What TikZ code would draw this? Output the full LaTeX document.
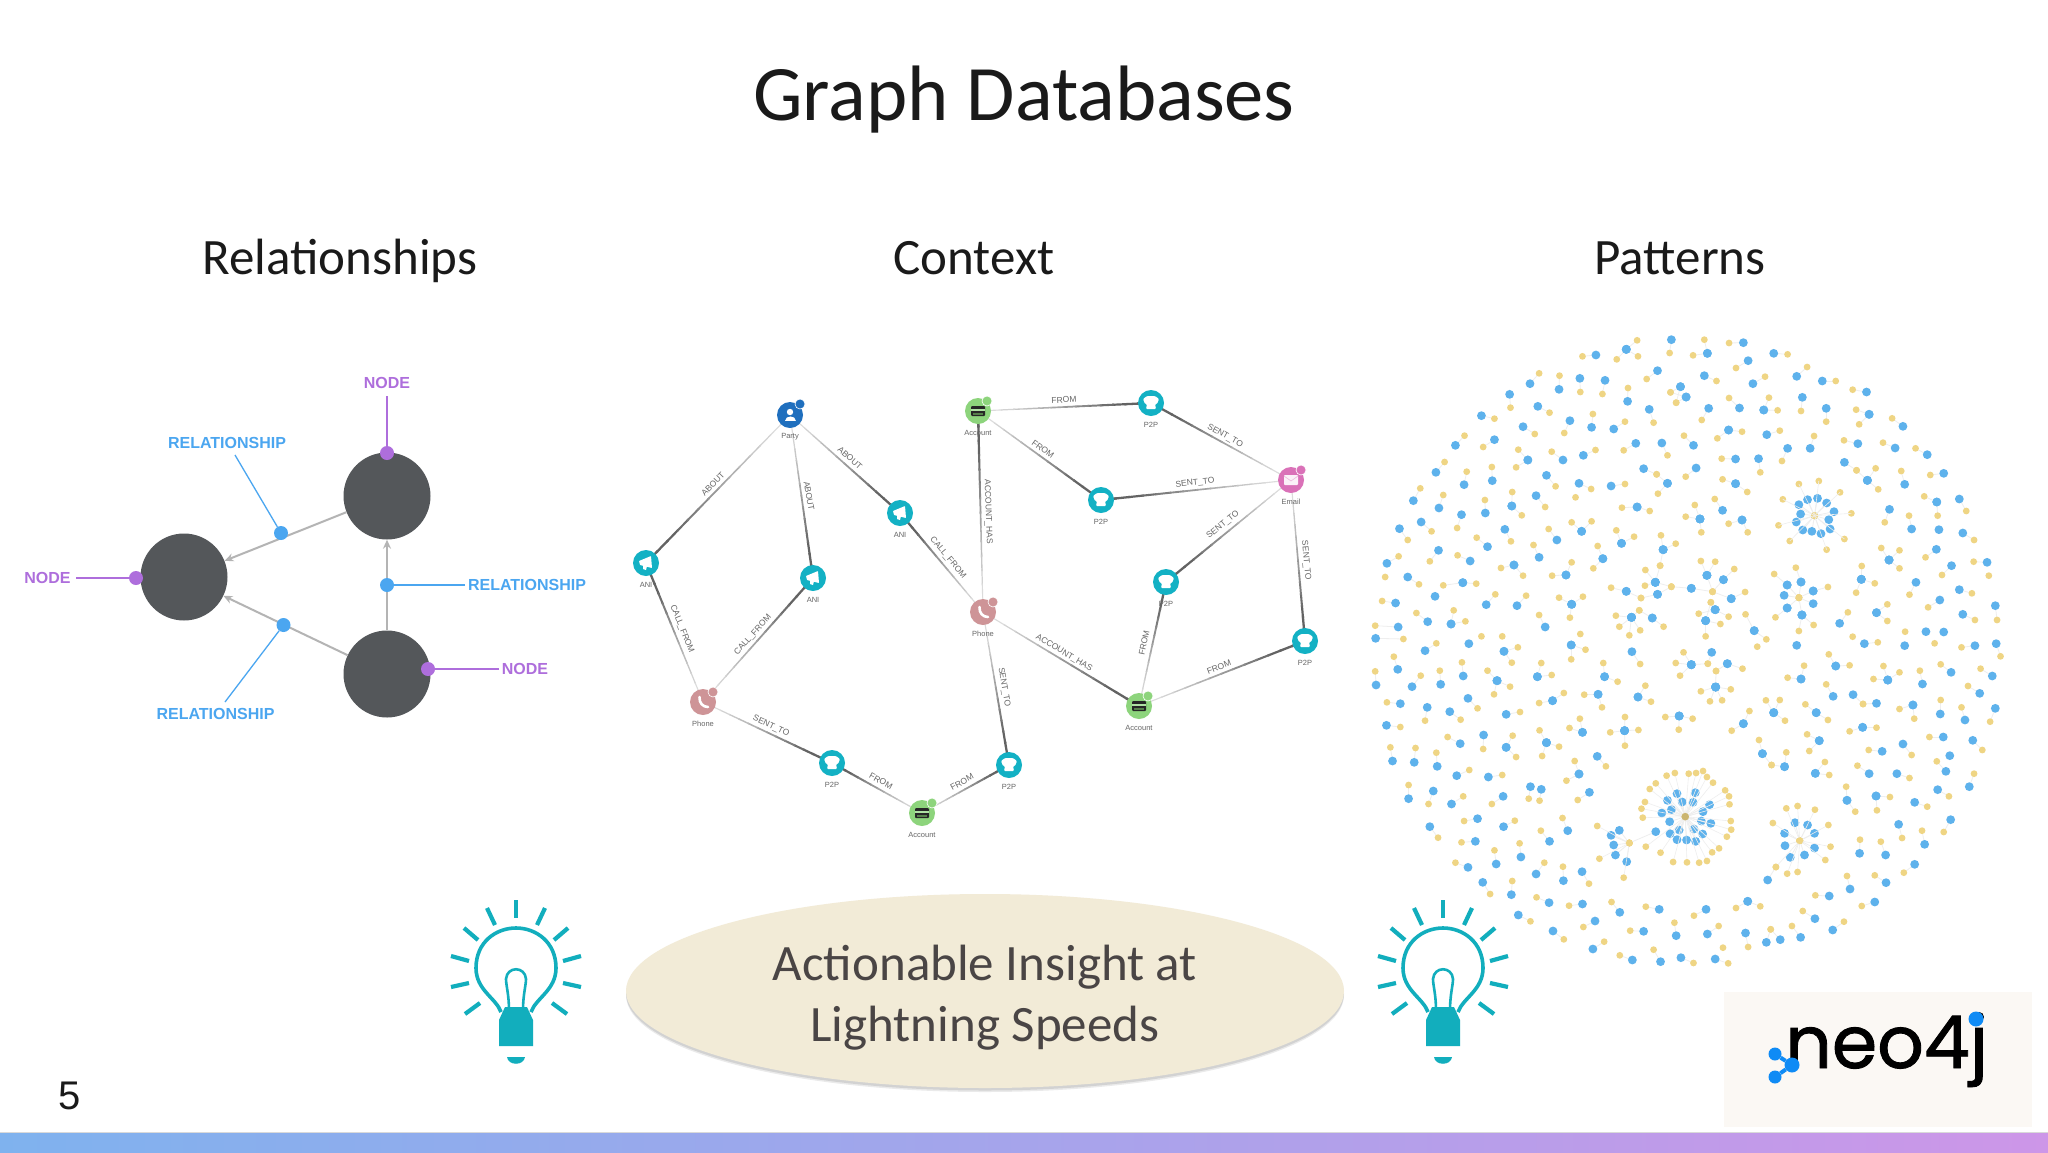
\documentclass[tikz,border=0pt]{standalone}
\usepackage{fontspec}
\setmainfont{Carlito}
\newfontfamily\lib{Liberation Sans}
\newfontfamily\neofont{Poppins}[FakeBold=1.2]
\usetikzlibrary{calc,arrows.meta,backgrounds,shapes.geometric}
\definecolor{titleink}{HTML}{1A1A1A}
\definecolor{nodegray}{HTML}{54575A}
\definecolor{nodepurple}{HTML}{AE6EDC}
\definecolor{relblue}{HTML}{4BA6F0}
\definecolor{arrowgray}{HTML}{B4B4B4}
\definecolor{teal1}{HTML}{13B1C4}
\definecolor{bluenode}{HTML}{1F6FBE}
\definecolor{pinknode}{HTML}{CE9497}
\definecolor{greennode}{HTML}{8DD47C}
\definecolor{mailnode}{HTML}{DA71B8}
\definecolor{edgedark}{HTML}{636363}
\definecolor{edgepale}{HTML}{E8E8E8}
\definecolor{txtgray}{HTML}{666666}
\definecolor{dotblue}{HTML}{5EB2EC}
\definecolor{dotyellow}{HTML}{EFD584}
\definecolor{linkpale}{HTML}{EEEEEE}
\definecolor{bulbteal}{HTML}{12AEBD}
\definecolor{ovalfill}{HTML}{F2EBD7}
\definecolor{ovalink}{HTML}{4A4545}
\definecolor{logobg}{HTML}{FBF8F4}
\definecolor{logoblue}{HTML}{0F8BF5}
\definecolor{barleft}{HTML}{7FB2EE}
\definecolor{barright}{HTML}{CD96E8}
\tikzset{
  bigdisc/.style={circle,fill=nodegray,minimum size=87pt,inner sep=0pt},
  pdot/.style={circle,fill=nodepurple,minimum size=14pt,inner sep=0pt},
  bdot/.style={circle,fill=relblue,minimum size=14pt,inner sep=0pt},
  plabel/.style={font=\lib\bfseries\fontsize{16}{18}\selectfont,text=nodepurple,inner sep=0pt},
  blabel/.style={font=\lib\bfseries\fontsize{16}{18}\selectfont,text=relblue,inner sep=0pt},
  pline/.style={nodepurple,line width=1.6pt},
  bline/.style={relblue,line width=1.3pt},
  garrow/.style={arrowgray,line width=2pt,-{Stealth[length=9pt,width=8pt]}},
  gdisc/.style={circle,minimum size=26pt,inner sep=0pt},
  gcap/.style={font=\lib\fontsize{7.5}{9}\selectfont,text=txtgray,inner sep=0pt},
  elab/.style={font=\lib\fontsize{8.5}{9}\selectfont,text=txtgray,inner sep=0pt},
  head/.style={font=\fontsize{51}{56}\selectfont,text=titleink,inner sep=0pt,anchor=base},
  ani/.pic={\fill[white,rounded corners=0.6pt] (-7,-2)--(5,-7)--(6,5)--(-6,2)--cycle;
            \fill[white] (-3,2)--(1,3)--(0,7)--(-3,6)--cycle;},
  ptp/.pic={\fill[white,rounded corners=1pt] (-8,-4)--(-4,-7)--(4,-7)--(8,-4)--(6,1)--(4,1)--(5,6)--(-5,6)--(-4,1)--(-6,1)--cycle;},
  acct/.pic={\fill[black!85,rounded corners=1pt] (-7,-5) rectangle (7,5);
             \fill[greennode!70!white] (-7,-2.5) rectangle (7,-0.5);
             \fill[greennode!60!black] (-5,1.5) rectangle (5,3.5);},
  phn/.pic={\draw[white,line width=2.6pt,line cap=round] (-3.5,-5) .. controls (-4,1) and (0,5) .. (5,5);},
  mail/.pic={\fill[white!90!mailnode,rounded corners=0.8pt] (-7,-5) rectangle (7,5);
             \draw[mailnode!50!white,line width=0.6pt] (-7,-4)--(0,1)--(7,-4);},
  pers/.pic={\fill[white] (0,-3) circle[radius=3.2pt];
             \fill[white] (-5.5,6) .. controls (-5.5,-0.5) and (5.5,-0.5) .. (5.5,6)--cycle;},
  bulb/.pic={
    \draw[bulbteal,line width=3.6pt] (-15,32) .. controls (-20,18) and (-40,10) .. (-40,-12)
       .. controls (-40,-38) and (-20,-52) .. (0,-52)
       .. controls (20,-52) and (40,-38) .. (40,-12)
       .. controls (40,10) and (20,18) .. (15,32);
    \draw[bulbteal,line width=2.6pt] (-7,30) .. controls (-7,15) and (-10,5) .. (-10,-1)
       .. controls (-9,-14) and (9,-14) .. (10,-1) .. controls (10,5) and (7,15) .. (7,30);
    \fill[bulbteal] (-11,27)--(11,27)--(17,40)--(17,66)--(-17,66)--(-17,40)--cycle;
    \fill[bulbteal] (-9,77) -- (9,77) .. controls (8,86) and (-8,86) .. cycle;
    \foreach \u/\v/\p/\q in {0/-80/0/-62,-29/-72/-21/-55,29/-72/21/-55,-52/-52/-38/-40,52/-52/38/-40,
       -65/-24/-47/-19,65/-24/47/-19,-65/7/-47/3,65/7/47/3,-51/34/-36/23,51/34/36/23}
      \draw[bulbteal,line width=4.2pt] (\u,\v)--(\p,\q);
  },
}
% dark end, pale end
\newcommand\gedge[2]{%
  \foreach \i in {0,...,13}{%
    \pgfmathsetmacro\ss{\i/14}%
    \pgfmathsetmacro\tt{(\i+1.15)/14}%
    \pgfmathsetmacro\pct{min(100,125*(1-\ss)^1.3)}%
    \pgfmathsetmacro\wd{2.4-1.5*\ss}%
    \draw[edgedark!\pct!edgepale,line width=\wd pt] ($(#1)!\ss!(#2)$) -- ($(#1)!\tt!(#2)$);
  }}
% name, x, y, colour, caption, icon
\newcommand\gnode[6]{%
  \node[gdisc,fill=#4] (#1) at (#2,#3) {};
  \pic at (#1.center) {#6};
  \node[gcap] (#1-cap) at ($(#1)+(0,21.5)$) {#5};
}
\newcommand\badge[3]{\node[circle,fill=#3,draw=white,line width=0.6pt,minimum size=10pt,inner sep=0pt] (#1-b) at ($(#1)+(#2)$) {};}
\begin{document}
\begin{tikzpicture}[x=1pt,y=-1pt]
\useasboundingbox (0,0) rectangle (2048,1152);
\begin{pgfonlayer}{background}
\fill[white] (0,0) rectangle (2048,1152);
\end{pgfonlayer}

% ---- headings
\node[font=\fontsize{78.6}{84}\selectfont,text=titleink,inner sep=0pt,anchor=base] (title) at (1024,120) {Graph Databases};
\node[head] (h1) at (340,274) {Relationships};
\node[head] (h2) at (974,274) {Context};
\node[head] (h3) at (1680,274) {Patterns};

% ---- Relationships diagram
\node[bigdisc] (top) at (387,496) {};
\node[bigdisc] (lft) at (184,577) {};
\node[bigdisc] (bot) at (387,674) {};
\draw[garrow] (top) -- (lft);
\draw[garrow] (bot) -- (lft);
\draw[garrow] (bot) -- (top);
\node[pdot] (ptop) at (387,453) {};
\node[pdot] (plft) at (136,578) {};
\node[pdot] (pbot) at (428,669) {};
\node[plabel] (ntop) at (387,383) {NODE};
\node[plabel] (nlft) at (47.5,578) {NODE};
\node[plabel] (nbot) at (525,669) {NODE};
\coordinate (ctop) at (387,396);
\coordinate (clft) at (76,578);
\coordinate (cbot) at (499,669);
\draw[pline] (ctop) -- (ptop);
\draw[pline] (clft) -- (plft);
\draw[pline] (cbot) -- (pbot);
\node[bdot] (b1) at (281,533) {};
\node[bdot] (b2) at (387,585) {};
\node[bdot] (b3) at (283.5,625) {};
\node[blabel] (r1) at (227,443) {RELATIONSHIP};
\node[blabel] (r2) at (527,585) {RELATIONSHIP};
\node[blabel] (r3) at (215.5,714) {RELATIONSHIP};
\coordinate (c1) at (235,455);
\coordinate (c2) at (465,585);
\coordinate (c3) at (225,702);
\draw[bline] (c1) -- (b1);
\draw[bline] (c2) -- (b2);
\draw[bline] (c3) -- (b3);

% ---- Context graph
\gnode{party}{790}{415}{bluenode}{Party}{pers}
\gnode{anione}{646}{563}{teal1}{ANI}{ani}
\gnode{anitwo}{813}{578}{teal1}{ANI}{ani}
\gnode{anithree}{900}{513}{teal1}{ANI}{ani}
\gnode{phoneone}{703}{702}{pinknode}{Phone}{phn}
\gnode{ptpa}{832}{763}{teal1}{P2P}{ptp}
\gnode{accta}{922}{813}{greennode}{Account}{acct}
\gnode{ptpb}{1009}{765}{teal1}{P2P}{ptp}
\gnode{acctb}{978}{411}{greennode}{Account}{acct}
\gnode{ptpc}{1151}{403}{teal1}{P2P}{ptp}
\gnode{ptpd}{1101}{500}{teal1}{P2P}{ptp}
\gnode{email}{1291}{480}{mailnode}{Email}{mail}
\gnode{ptpe}{1166}{582}{teal1}{P2P}{ptp}
\gnode{ptpf}{1305}{641}{teal1}{P2P}{ptp}
\gnode{phonetwo}{983}{612}{pinknode}{Phone}{phn}
\gnode{acctc}{1139}{706}{greennode}{Account}{acct}
\badge{party}{10,-11}{bluenode}
\badge{phoneone}{10,-10}{pinknode}
\badge{phonetwo}{10,-10}{pinknode}
\badge{email}{10,-10}{mailnode}
\badge{accta}{10,-10}{greennode}
\badge{acctb}{9,-10}{greennode}
\badge{acctc}{9,-10}{greennode}
\begin{pgfonlayer}{background}
\gedge{anione}{party}
\gedge{anitwo}{party}
\gedge{anithree}{party}
\gedge{anione}{phoneone}
\gedge{anitwo}{phoneone}
\gedge{anithree}{phonetwo}
\gedge{ptpa}{phoneone}
\gedge{ptpa}{accta}
\gedge{ptpb}{accta}
\gedge{ptpc}{acctb}
\gedge{ptpd}{acctb}
\gedge{acctb}{phonetwo}
\gedge{ptpc}{email}
\gedge{ptpd}{email}
\gedge{ptpe}{email}
\gedge{ptpf}{email}
\gedge{ptpe}{acctc}
\gedge{ptpf}{acctc}
\gedge{acctc}{phonetwo}
\gedge{ptpb}{phonetwo}
\end{pgfonlayer}
\node[elab,rotate=46] (e1) at (713,484) {ABOUT};
\node[elab,rotate=-80] (e2) at (809,496) {ABOUT};
\node[elab,rotate=-42] (e3) at (850,458) {ABOUT};
\node[elab,rotate=-68] (e4) at (682,629) {CALL\_FROM};
\node[elab,rotate=48] (e5) at (753,635) {CALL\_FROM};
\node[elab,rotate=-50] (e6) at (948,558) {CALL\_FROM};
\node[elab,rotate=-25] (e7) at (771,726) {SENT\_TO};
\node[elab,rotate=-29] (e8) at (881,781) {FROM};
\node[elab,rotate=29] (e9) at (962,782) {FROM};
\node[elab,rotate=3] (e10) at (1064,400) {FROM};
\node[elab,rotate=-36] (e11) at (1043,449) {FROM};
\node[elab,rotate=-88] (e12) at (988,512) {ACCOUNT\_HAS};
\node[elab,rotate=-29] (e13) at (1225,436) {SENT\_TO};
\node[elab,rotate=6] (e14) at (1195,483) {SENT\_TO};
\node[elab,rotate=39] (e15) at (1223,525) {SENT\_TO};
\node[elab,rotate=-85] (e16) at (1306,560) {SENT\_TO};
\node[elab,rotate=78] (e17) at (1144,643) {FROM};
\node[elab,rotate=21] (e18) at (1219,667) {FROM};
\node[elab,rotate=-31] (e19) at (1064,653) {ACCOUNT\_HAS};
\node[elab,rotate=-80] (e20) at (1004,687) {SENT\_TO};

% ---- Patterns: upper half (zoom-crop coordinates)
\begin{scope}[shift={(1360,320)},x=0.43365pt,y=-0.33333pt]
\foreach \a/\b/\c/\d in {544/105/513/109,614/88/639/61,614/88/592/118,614/88/641/109,718/59/714/99,801/100/794/59,801/100/768/106,884/68/851/69,895/122/867/144,954/100/986/103,1007/169/1031/141,1066/183/1097/183,1168/216/1136/209,1174/283/1144/269,1174/283/1151/313,1252/319/1227/295,1234/384/1206/368,1308/404/1281/385,1346/460/1315/465,686/152/661/177,794/167/822/183,906/191/934/170,1020/232/1017/273,1075/265/1075/305,931/270/963/271,931/270/943/233,875/264/851/234,804/265/788/300,667/268/677/308,739/200/716/217,752/231/729/248,739/200/729/248,752/231/716/217,617/244/618/204,565/181/559/222,507/175/508/216,459/208/460/167,392/191/413/160,345/223/347/263,410/259/437/278,280/287/310/296,376/320/403/342,484/302/471/339,534/322/537/282,585/327/611/305,636/370/608/391,696/369/709/406,769/376/747/347,850/330/824/355,850/330/881/335,938/344/968/332,986/385/973/423,1038/385/1047/348,1148/371/1116/361,310/359/284/381,220/376/241/347,175/457/195/426,123/542/139/505,182/564/192/525,240/494/246/455,305/482/304/441,387/420/360/442,387/420/365/389,468/420/442/395,515/406/543/390,430/466/451/499,505/490/533/507,579/498/611/492,654/446/684/463,709/490/684/463,709/490/687/521,775/444/751/470,866/417/834/416,919/416/923/457,866/491/836/478,866/491/893/516,1117/427/1145/451,1170/481/1145/451,1170/481/1189/445,1170/481/1195/508,1256/493/1248/453,406/527/427/561,350/558/351/516,350/558/373/586,289/579/288/540,234/584/224/624,141/606/165/634,91/626/110/660,1330/546/1301/529,1330/546/1332/587,1382/537/1398/573,1221/568/1210/607,1272/627/1266/587,1390/639/1416/660,1329/688/1304/712,1220/720/1202/684,1220/720/1244/691,1220/720/1244/745,1446/727/1415/725,1364/737/1342/765,1282/787/1267/824,1156/778/1157/738,1156/778/1187/790,1156/778/1144/818,1382/809/1411/820,1337/840/1310/862,1465/857/1469/900,1390/883/1418/900,1191/878/1216/853,1191/878/1216/903,1106/910/1125/877,639/561/604/563,639/561/668/573,836/571/818/537,784/597/772/555,784/597/751/590,784/597/787/637,881/600/850/611,881/600/894/637,603/670/591/631,603/670/632/650,511/634/488/607,511/634/534/604,454/660/435/627,334/628/348/664,294/680/269/653,181/691/161/724,62/730/89/709,254/723/225/706,355/735/325/744,355/735/376/767,413/712/400/675,475/765/443/767,475/765/488/727,560/716/548/678,560/716/538/745,110/771/136/793,237/788/268/791,237/788/192/796,82/849/51/843,291/854/312/823,362/857/383/827,488/853/459/833,488/853/514/830,488/853/484/893,156/905/130/879,210/912/216/871,210/912/243/904,88/921/35/917,427/921/413/885,36/955/100/957,
 1032/539/1048/587,1055/535/1048/587,1076/549/1048/587,1093/575/1048/587,1081/599/1048/587,1084/627/1048/587,1063/641/1048/587,1042/634/1048/587,1021/630/1048/587,1006/606/1048/587,1016/582/1048/587,1012/554/1048/587,
 699/689/694/646,699/689/728/671,699/689/692/737,681/787/692/737,681/787/658/750,681/787/657/797,681/787/718/800,686/823/718/800,686/823/648/834,614/814/579/803,614/814/648/834,626/892/644/871,626/892/590/887,626/892/598/920,626/892/621/946,626/892/646/931,674/894/644/871,674/894/700/920,764/805/718/800,764/805/813/815,800/766/786/723,800/766/819/725,800/766/813/815,838/779/863/747,838/779/813/815,856/836/888/816,856/836/813/815,819/869/809/847,819/869/781/881,819/869/850/890,797/902/809/847,797/902/831/912,797/902/797/949,909/932/889/883,909/932/937/958,
 985/795/1012/833,1017/786/1012/833,1045/813/1012/833,1045/851/1012/833,1019/885/1012/833,985/864/1012/833,978/826/1012/833,1017/786/1005/743,985/795/955/762,1045/813/1079/801,1019/885/1046/915,1019/885/1012/933,985/864/958/892}{
  \draw[linkpale,line width=0.8pt] (\a,\b)--(\c,\d);
  \fill[dotblue] (\a,\b) circle[radius=4.4pt];
  \fill[dotyellow] (\c,\d) circle[radius=3.4pt];
}
\foreach \c/\d in {497/532,1450/767,58/771,508/942,280/949,328/949,1136/950,1257/935,1012/492,1058/483,1107/517,1133/580,1117/657,1076/689,991/663,965/616,975/538,1048/587}{
  \fill[dotyellow] (\c,\d) circle[radius=3.4pt];
}
\foreach \a/\b in {1335/629,173/829,1346/936,1305/935}{
  \fill[dotblue] (\a,\b) circle[radius=4.4pt];
}
\foreach \c/\d in {1012/492,1058/483,1107/517,1133/580,1117/657,1076/689,991/663,965/616,975/538}{
  \draw[linkpale,line width=0.6pt] (1048,587)--(\c,\d);
}
\end{scope}

% ---- Patterns: lower half
\begin{scope}[shift={(1360,640)},x=0.43365pt,y=-0.33333pt]
\foreach \a/\b/\c/\d in {150/32/176/10,332/34/364/22,332/34/350/68,487/15/520/29,487/15/487/58,627/35/646/72,87/88/78/50,37/135/35/94,120/140/140/107,186/133/184/92,238/108/235/67,316/122/294/92,316/122/346/140,316/122/309/163,409/110/442/105,409/110/418/69,564/110/561/69,564/110/594/125,764/74/746/37,764/74/728/69,764/74/738/107,764/74/802/71,847/71/882/86,847/71/821/93,811/37/802/71,820/141/786/154,820/141/855/148,820/141/807/184,820/141/835/181,820/141/821/93,93/191/62/187,155/202/150/242,207/215/232/239,249/175/271/205,337/223/369/216,444/182/413/189,444/182/470/159,549/163/517/164,549/163/558/202,641/171/658/137,641/171/671/185,736/228/704/231,736/228/767/236,736/228/735/269,61/256/93/261,285/285/284/327,231/311/202/291,337/322/352/287,337/322/360/351,430/308/414/271,430/308/459/320,430/308/420/348,513/277/507/236,513/277/483/264,610/272/611/231,610/272/577/277,610/272/642/270,610/272/611/317,75/363/70/322,125/367/128/324,178/379/176/338,547/349/567/379,505/402/495/363,505/402/476/422,223/407/252/390,296/411/328/405,112/476/112/435,169/453/158/492,211/492/238/469,330/469/304/492,393/440/389/476,418/448/414/482,529/457/502/480,161/560/180/593,271/536/240/543,331/560/357/542,266/604/234/607,479/572/467/534,437/604/417/572,371/651/368/610,314/672/310/631,249/682/220/668,406/702/425/668,469/722/468/680,512/695/528/731,349/764/351/723,283/727/300/762,436/788/407/772,513/792/482/797,365/825/393/844,599/817/580/786,690/808/659/800,798/808/770/827,894/784/867/804,894/784/923/799,542/843/515/861,445/873/470/898,654/874/623/872,729/887/725/848,801/882/827/858,889/879/895/921,937/907/947/868,969/899/947/868,1016/892/996/858,1049/836/1021/813,1090/870/1116/845,1082/768/1050/766,1187/786/1157/798,1130/747/1123/708,1213/728/1187/706,1279/673/1254/698,1152/640/1153/599,1212/645/1201/605,1302/613/1296/572,1242/553/1250/594,1362/539/1346/576,1332/449/1358/469,1279/487/1308/500,1123/481/1121/440,1123/481/1142/515,1190/468/1222/471,1190/468/1192/511,1405/440/1416/401,1351/394/1330/364,1238/401/1267/414,1174/401/1147/377,1252/312/1272/345,1204/334/1173/330,1050/400/1072/366,1050/400/1082/405,1059/302/1031/283,1059/302/1036/333,928/341/920/300,928/341/949/375,979/380/983/337,979/380/949/375,884/251/898/213,884/251/857/272,954/218/936/181,954/218/968/180,954/218/980/242,1052/218/1027/193,1052/218/1079/240,1159/262/1129/274,1159/262/1191/263,1137/164/1160/192,1191/190/1160/192,1091/169/1075/133,1017/117/986/113,1017/117/1024/77,1097/78/1129/76,1097/78/1081/43,1217/120/1184/117,1217/120/1207/78,1217/120/1244/97,1297/132/1291/92,1363/97/1339/73,1458/108/1431/86,1429/160/1402/138,1465/205/1453/245,1395/240/1387/202,1338/222/1339/180,1275/195/1244/207,1275/195/1278/236,1345/291/1313/291,1413/301/1435/330,1163/11/1194/7,1418/17/1387/22,1467/11/1477/49,537/927/563/905,628/960/599/946,693/965/677/929,740/953/769/969,819/957/849/970,
 731/461/750/530,773/458/750/530,709/481/750/530,743/486/750/530,768/487/750/530,806/494/750/530,718/509/750/530,696/519/750/530,791/515/750/530,714/545/750/530,787/543/750/530,809/550/750/530,736/570/750/530,770/567/750/530,715/581/750/530,790/582/750/530,731/599/750/530,753/600/750/530,774/604/750/530,
 598/571/621/609,579/586/621/609,585/615/621/609,589/645/621/609,615/665/621/609,682/575/621/609,
 1003/548/1014/602,1032/555/1014/602,1048/580/1014/602,979/580/1014/602,980/617/1014/602,1048/624/1014/602,1025/645/1014/602,992/652/1014/602,940/720/959/681}{
  \draw[linkpale,line width=0.8pt] (\a,\b)--(\c,\d);
  \fill[dotblue] (\a,\b) circle[radius=4.4pt];
  \fill[dotyellow] (\c,\d) circle[radius=3.4pt];
}
\foreach \a/\b in {251/11,1360/347,1007/16,1256/17}{
  \fill[dotblue] (\a,\b) circle[radius=4.4pt];
}
\foreach \c/\d in {916/20,837/923,1325/10}{
  \fill[dotyellow] (\c,\d) circle[radius=3.4pt];
}
\foreach \c/\d in {668/447,682/430,707/407,726/399,758/401,775/399,791/393,800/411,814/428,842/451,851/469,852/493,855/543,856/569,846/590,828/625,812/637,800/663,782/668,754/667,722/666,693/638,659/620,652/533,649/506,657/486}{
  \draw[linkpale,line width=0.6pt] (750,530)--(\c,\d);
  \fill[dotyellow] (\c,\d) circle[radius=3.4pt];
}
\fill[dotyellow!85!black] (750,530) circle[radius=3.8pt];
\foreach \c/\d in {547/558,552/656,608/713}{
  \draw[linkpale,line width=0.6pt] (621,609)--(\c,\d);
  \fill[dotyellow] (\c,\d) circle[radius=3.4pt];
}
\fill[dotyellow] (621,609) circle[radius=3.4pt];
\foreach \c/\d in {983/505,1009/498,1049/509,1080/555,952/549,1085/620,1073/660,959/681,985/701,1009/696}{
  \draw[linkpale,line width=0.6pt] (1014,602)--(\c,\d);
  \fill[dotyellow] (\c,\d) circle[radius=3.4pt];
}
\fill[dotyellow] (1014,602) circle[radius=3.4pt];
\end{scope}

% ---- bulbs and oval
\pic at (516,980) {bulb};
\pic at (1443,980) {bulb};
\fill[black!45,opacity=0.18] (985,995) ellipse[x radius=359pt,y radius=97pt];
\fill[black!45,opacity=0.25] (985,993.5) ellipse[x radius=359pt,y radius=97pt];
\node[ellipse,fill=ovalfill,minimum width=718pt,minimum height=194pt,inner sep=0pt] (oval) at (985,991) {};
\node[align=center,font=\fontsize{51}{61}\selectfont,text=ovalink,inner sep=0pt] (ovaltext) at (985,997.5) {Actionable Insight at\\Lightning Speeds};

% ---- logo
\node[fill=logobg,minimum width=308pt,minimum height=135pt,inner sep=0pt] (logobox) at (1878,1059.5) {};
\node[font=\neofont\fontsize{73}{80}\selectfont,text=black,anchor=base west,inner sep=0pt] (neo) at (1785,1068) {neo4j};
\node[circle,fill=logoblue,minimum size=13pt,inner sep=0pt] (lk1) at (1775,1054) {};
\node[circle,fill=logoblue,minimum size=15pt,inner sep=0pt] (lk2) at (1792,1065) {};
\node[circle,fill=logoblue,minimum size=13pt,inner sep=0pt] (lk3) at (1775,1077) {};
\draw[logoblue,line width=4pt] (lk1) -- (lk2);
\draw[logoblue,line width=4pt] (lk3) -- (lk2);
\node[circle,fill=logoblue,minimum size=15pt,inner sep=0pt] (jdot) at (1976,1019) {};

% ---- page number and bar
\node[font=\lib\fontsize{40}{44}\selectfont,text=titleink,inner sep=0pt] (pagenum) at (70,1096) {5};
\shade[left color=barleft,right color=barright] (0,1132) rectangle (2048,1152);
\draw[black!15,line width=0.8pt] (0,1132) -- (2048,1132);
\end{tikzpicture}
\end{document}
